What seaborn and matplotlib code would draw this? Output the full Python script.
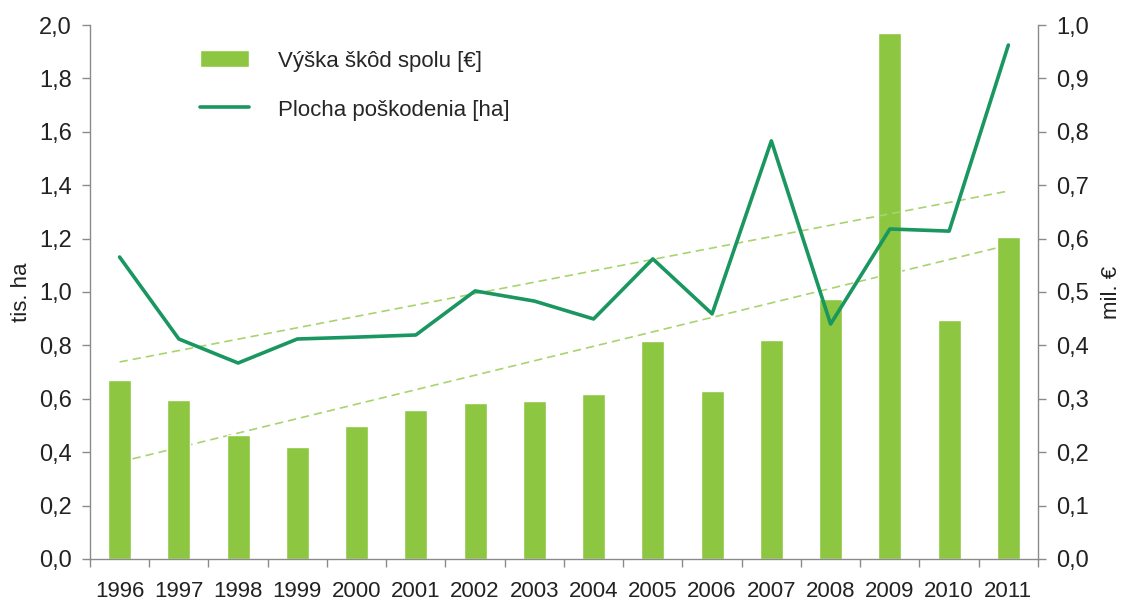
import matplotlib as mpl
mpl.use('Agg')
import matplotlib.pyplot as plt
from matplotlib.ticker import FixedLocator
import numpy as np
import pandas as pd
import seaborn as sns

years = ['1996', '1997', '1998', '1999', '2000', '2001', '2002', '2003',
         '2004', '2005', '2006', '2007', '2008', '2009', '2010', '2011']
# Výška škôd spolu, mil. €
damage = [0.335, 0.298, 0.232, 0.210, 0.249, 0.279, 0.292, 0.296,
          0.309, 0.408, 0.315, 0.410, 0.487, 0.985, 0.448, 0.603]
# Plocha poškodenia, tis. ha
area = [1.131, 0.824, 0.734, 0.824, 0.831, 0.839, 1.004, 0.966,
        0.899, 1.124, 0.918, 1.566, 0.880, 1.236, 1.228, 1.925]
left_ticks = ['0,0', '0,2', '0,4', '0,6', '0,8', '1,0', '1,2', '1,4', '1,6', '1,8', '2,0']
right_ticks = ['0,0', '0,1', '0,2', '0,3', '0,4', '0,5', '0,6', '0,7', '0,8', '0,9', '1,0']

df = pd.DataFrame({'rok': years, 'skody': damage, 'plocha': area})
xi = np.arange(len(years))
df['x'] = xi

sns.set_style('white')
plt.rcParams['font.family'] = ['Liberation Sans', 'DejaVu Sans']

bar_c = '#8dc641'
line_c = '#1a9660'
trend_c = '#a8d46f'
grey = '#8a8a8a'
txt = '#222222'

fig = plt.figure(figsize=(11.23, 6.01), dpi=100)
ax = fig.add_axes([0.0801, 0.0699, 0.8442, 0.8885])
ax2 = ax.twinx()

# bars on the right axis (behind), line on the left axis (in front)
sns.barplot(data=df, x='rok', y='skody', color=bar_c, width=0.39, ax=ax2,
            saturation=1, zorder=2, label='Výška škôd spolu [€]')
k2, q2 = np.polyfit(xi, damage, 1)
ax2.plot(xi, k2 * xi + q2, ls=(0, (5, 3)), color=trend_c, lw=1.2, zorder=1)

ax.set_zorder(ax2.get_zorder() + 1)
ax.patch.set_visible(False)
sns.lineplot(data=df, x='x', y='plocha', color=line_c, lw=2.6, ax=ax,
             zorder=3, label='Plocha poškodenia [ha]')
k1, q1 = np.polyfit(xi, area, 1)
ax.plot(xi, k1 * xi + q1, ls=(0, (5, 3)), color=trend_c, lw=1.2, zorder=2)

ax.set_xlim(-0.5, 15.5)
ax2.set_xlim(-0.5, 15.5)
ax.set_ylim(0, 2.0)
ax2.set_ylim(0, 1.0)

ax.set_yticks(np.linspace(0, 2, 11))
ax.set_yticklabels(left_ticks)
ax2.set_yticks(np.linspace(0, 1, 11))
ax2.set_yticklabels(right_ticks)

ax.set_xticks(xi)
ax.set_xticklabels(years)
ax.xaxis.set_minor_locator(FixedLocator(np.arange(-0.5, 16, 1)))
ax.tick_params(axis='x', which='major', length=0, pad=16, labelsize=16, colors=txt)
ax.tick_params(axis='x', which='minor', length=6, width=1, color=grey, direction='out', bottom=True)
ax.tick_params(axis='y', length=6, width=1, color=grey, direction='out', left=True, pad=7,
               labelsize=17, labelcolor=txt)
ax2.tick_params(axis='y', length=6, width=1, color=grey, direction='out', right=True, pad=7,
                labelsize=17, labelcolor=txt)
ax2.tick_params(axis='x', length=0, labelbottom=False)

ax.set_xlabel('')
ax2.set_xlabel('')
ax.set_ylabel('tis. ha', fontsize=16, color=txt, labelpad=5)
ax2.set_ylabel('mil. €', fontsize=16, color=txt, labelpad=9)

for a in (ax, ax2):
    a.spines['top'].set_visible(False)
    for s in ('left', 'right', 'bottom'):
        a.spines[s].set_color(grey)
        a.spines[s].set_linewidth(1)
ax.spines['right'].set_visible(False)
ax2.spines['left'].set_visible(False)
ax2.spines['bottom'].set_visible(False)

h1, l1 = ax2.get_legend_handles_labels()
h2, l2 = ax.get_legend_handles_labels()
if ax2.get_legend():
    ax2.get_legend().remove()
ax.legend(h1 + h2, l1 + l2, loc='upper left', bbox_to_anchor=(0.095, 0.99),
          frameon=False, fontsize=16, handlelength=2.2, handleheight=0.8,
          handletextpad=1.3, labelspacing=1.25)

plt.savefig('out.png', dpi=100)
